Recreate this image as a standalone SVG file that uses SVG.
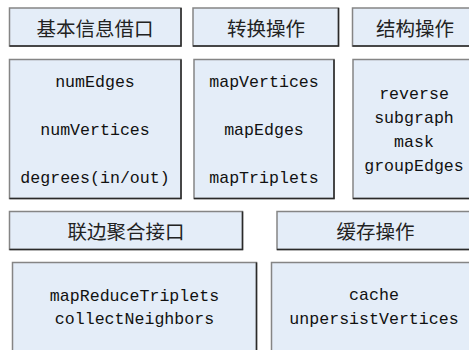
<svg xmlns="http://www.w3.org/2000/svg" width="469" height="350" viewBox="0 0 469 350">
<style>
.box{fill:#E4EDF8;stroke:#858585;stroke-width:1.5}
.sh{fill:none;stroke:#2a2a2a;stroke-width:1.5}
.t{font-family:"Noto Sans CJK SC","Noto Sans CJK JP",sans-serif;font-size:19.5px;fill:#222;text-anchor:middle;dominant-baseline:central}
.m{font-family:"Liberation Mono","DejaVu Sans Mono",monospace;font-size:16.6px;fill:#111;text-anchor:middle}
</style>
<rect width="469" height="350" fill="#ffffff"/>
<g id="basic-title">
<rect class="box" x="9.5" y="8" width="171.5" height="38"/>
<path class="sh" d="M181 8V46H9.5"/>
<text class="t" x="95" y="27">基本信息借口</text>
</g>
<g id="basic-body">
<rect class="box" x="9.5" y="59.5" width="171.5" height="139"/>
<path class="sh" d="M181 59.5V198.5H9.5"/>
<text class="m" x="95" y="87">numEdges</text>
<text class="m" x="95" y="135">numVertices</text>
<text class="m" x="95" y="183">degrees(in/out)</text>
</g>
<g id="transform-title">
<rect class="box" x="193" y="8" width="145.5" height="38"/>
<path class="sh" d="M338.5 8V46H193"/>
<text class="t" x="266" y="27">转换操作</text>
</g>
<g id="transform-body">
<rect class="box" x="194" y="59.5" width="140" height="139"/>
<path class="sh" d="M334 59.5V198.5H194"/>
<text class="m" x="264" y="87">mapVertices</text>
<text class="m" x="264" y="135">mapEdges</text>
<text class="m" x="264" y="183">mapTriplets</text>
</g>
<g id="struct-title">
<rect class="box" x="352.5" y="8" width="125" height="38"/>
<path class="sh" d="M477.5 46H352.5"/>
<text class="t" x="415" y="27">结构操作</text>
</g>
<g id="struct-body">
<rect class="box" x="353" y="59.5" width="124" height="139"/>
<path class="sh" d="M477 198.5H353"/>
<text class="m" x="414" y="99">reverse</text>
<text class="m" x="414" y="123">subgraph</text>
<text class="m" x="414" y="147">mask</text>
<text class="m" x="414" y="171">groupEdges</text>
</g>
<g id="agg-title">
<rect class="box" x="9.5" y="211.5" width="233" height="38"/>
<path class="sh" d="M242.5 211.5V249.5H9.5"/>
<text class="t" x="126" y="230">联边聚合接口</text>
</g>
<g id="agg-body">
<rect class="box" x="12.5" y="262.5" width="244" height="100"/>
<path class="sh" d="M256.5 262.5V362"/>
<text class="m" x="134.5" y="301">mapReduceTriplets</text>
<text class="m" x="134.5" y="324">collectNeighbors</text>
</g>
<g id="cache-title">
<rect class="box" x="277" y="211.5" width="200" height="38"/>
<path class="sh" d="M477 249.5H277"/>
<text class="t" x="375.5" y="230">缓存操作</text>
</g>
<g id="cache-body">
<rect class="box" x="271.5" y="262.5" width="206" height="100"/>
<text class="m" x="374" y="300">cache</text>
<text class="m" x="374" y="324">unpersistVertices</text>
</g>
<g id="connectors"></g>
</svg>
